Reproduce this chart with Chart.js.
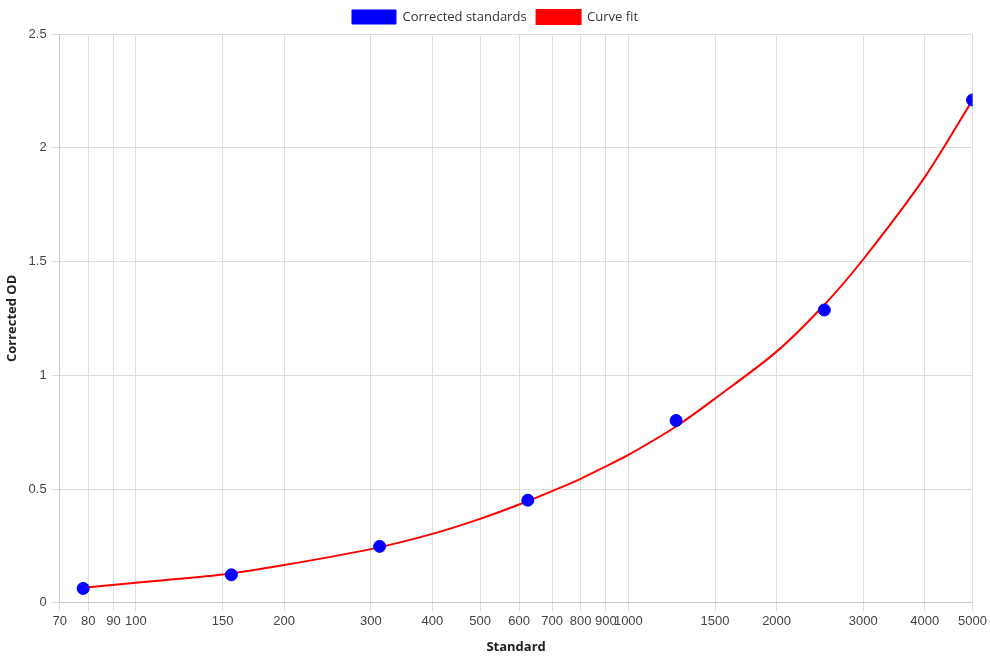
<!DOCTYPE html>
<html>
<head>
<meta charset="utf-8">
<script src="https://cdn.jsdelivr.net/npm/chart.js@4"></script>
<style>
  body { margin: 0; background: #fff; }
  #wrap { width: 990px; height: 660px; }
</style>
</head>
<body>
<div id="wrap"><canvas id="BieuDoChuan"></canvas></div>
<script>
const standards = [78.125, 156.25, 312.5, 625, 1250, 2500, 5000];
const correctedOD = [0.063, 0.123, 0.248, 0.451, 0.801, 1.287, 2.210];

const fitX = [78.125, 100, 150, 200, 300, 400, 500, 600, 700, 800, 900, 1000, 1250, 1500, 2000, 2500, 3000, 4000, 5000];
const fitY = [0.066, 0.088, 0.124, 0.166, 0.236, 0.303, 0.369, 0.432, 0.491, 0.545, 0.600, 0.650, 0.775, 0.898, 1.104, 1.31, 1.51, 1.871, 2.21];

const xTicks = [70, 80, 90, 100, 150, 200, 300, 400, 500, 600, 700, 800, 900, 1000, 1500, 2000, 3000, 4000, 5000];

Chart.defaults.font.family = 'Arial, "Liberation Sans", sans-serif';
Chart.defaults.font.size = 13;
Chart.defaults.color = '#666';

const titleFont = { family: '"Open Sans", sans-serif', size: 13, weight: 'bold' };

let ctx = document.getElementById('BieuDoChuan').getContext('2d');

let chartChuan = new Chart(ctx, {
    type: 'scatter',
    data: {
        datasets: [{
            label: 'Corrected standards',
            data: standards.map((x, i) => ({ x: x, y: correctedOD[i] })),
            backgroundColor: 'rgb(0, 0, 255)',
            borderColor: 'rgb(0, 0, 255)',
            pointRadius: 6,
            pointHoverRadius: 7,
            order: 0
        }, {
            label: 'Curve fit',
            type: 'line',
            data: fitX.map((x, i) => ({ x: x, y: fitY[i] })),
            backgroundColor: 'rgb(255, 0, 0)',
            borderColor: 'rgb(255, 0, 0)',
            borderWidth: 2,
            pointRadius: 0,
            tension: 0.3,
            fill: false,
            order: 1
        }]
    },
    options: {
        maintainAspectRatio: false,
        responsive: true,
        animation: false,
        layout: { padding: { left: 0, bottom: 1, top: 0, right: 0 } },
        plugins: {
            legend: {
                display: true,
                position: 'top',
                labels: {
                    boxWidth: 44,
                    boxHeight: 14,
                    color: '#333',
                    font: { family: '"Open Sans", sans-serif', size: 13 }
                }
            },
            tooltip: { enabled: false }
        },
        scales: {
            x: {
                type: 'logarithmic',
                min: 70,
                max: 5000,
                title: {
                    display: true,
                    text: 'Standard',
                    color: '#222',
                    font: titleFont,
                    padding: { top: 7, bottom: 4 }
                },
                afterBuildTicks: axis => {
                    axis.ticks = xTicks.map(v => ({ value: v }));
                },
                ticks: {
                    autoSkip: false,
                    maxRotation: 0,
                    color: '#444',
                    callback: v => String(v)
                },
                grid: { color: '#ddd' }
            },
            y: {
                min: 0,
                max: 2.5,
                title: {
                    display: true,
                    text: 'Corrected OD',
                    color: '#222',
                    font: titleFont
                },
                ticks: {
                    stepSize: 0.5,
                    padding: 5,
                    color: '#444',
                    callback: v => String(Math.round(v * 10) / 10)
                },
                grid: { color: '#ddd' }
            }
        }
    }
});
</script>
</body>
</html>
